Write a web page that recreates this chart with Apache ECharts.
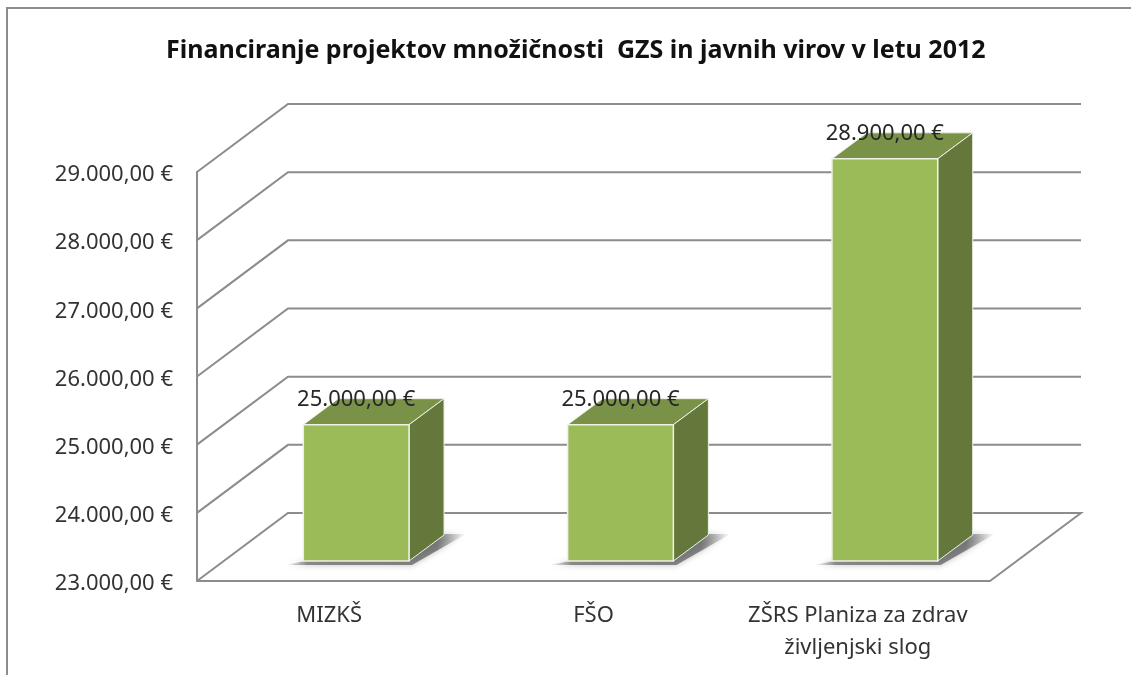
<!DOCTYPE html>
<html><head><meta charset="utf-8">
<style>html,body{margin:0;padding:0;background:#fff}#c{width:1131px;height:675px}</style>
<script src="https://cdn.jsdelivr.net/npm/echarts@6/dist/echarts.min.js"></script>
</head><body><div id="c"></div>
<script>
const titleText = 'Financiranje projektov množičnosti  GZS in javnih virov v letu 2012';
const categories = ['MIZKŠ', 'FŠO', 'ZŠRS Planiza za zdrav\nživljenjski slog'];
const amounts = [25000, 25000, 28900];
const yTicks = [23000, 24000, 25000, 26000, 27000, 28000, 29000];

const FONT = '"Noto Sans", sans-serif';
const LINE = '#8c8c8c';
const WALL = [91, -68];      // depth of the whole 3D floor, px
const BAR_SHIFT = [27, -20]; // front face of the bars inside the floor, px
const BAR_DEPTH = [35, -26]; // depth of a bar, px

function money(v) {
  const s = String(Math.round(v));
  return s.slice(0, -3) + '.' + s.slice(-3) + ',00 €';
}

const chart = echarts.init(document.getElementById('c'), null, {renderer: 'canvas'});

function wallItem(params, api) {
  const v = api.value(0);
  const band = api.size([1, 0])[0];
  const n = categories.length;
  const left = api.coord([0, v]);
  const x0 = left[0] - band / 2;
  const x1 = x0 + band * n;
  const y = left[1];
  const pts = [[x0, y], [x0 + WALL[0], y + WALL[1]], [x1 + WALL[0], y + WALL[1]]];
  if (v === yTicks[0]) pts.push([x1, y]);
  return {type: 'polyline', shape: {points: pts},
    style: {stroke: LINE, lineWidth: 2, fill: null}, silent: true};
}

function barItem(params, api) {
  const i = api.value(0), v = api.value(1);
  const band = api.size([1, 0])[0];
  const w = band * 0.4;
  const top = api.coord([i, v]);
  const base = api.coord([i, yTicks[0]]);
  const x0 = top[0] - w / 2 + BAR_SHIFT[0], x1 = x0 + w;
  const yt = top[1] + BAR_SHIFT[1], yb = base[1] + BAR_SHIFT[1];
  const dx = BAR_DEPTH[0], dy = BAR_DEPTH[1];
  const edge = '#eef1e6';
  const shade = {type: 'linear', global: true, x: x0 - 18, y: 0, x2: x1 + dx + 22, y2: 0, colorStops: [
    {offset: 0, color: 'rgba(80,80,80,0)'},
    {offset: 0.12, color: 'rgba(80,80,80,0.6)'},
    {offset: 0.84, color: 'rgba(80,80,80,0.65)'},
    {offset: 1, color: 'rgba(80,80,80,0)'}]};
  return {type: 'group', children: [
    {type: 'polygon', shape: {points: [[x0 - 18, yb + 4], [x1 + 3, yb + 4], [x1 + dx + 22, yb + dy - 1], [x1 + dx - 2, yb + dy - 1]]},
      style: {fill: shade, shadowBlur: 6, shadowColor: 'rgba(110,110,110,0.7)'}},
    {type: 'polygon', shape: {points: [[x0, yt], [x1, yt], [x1 + dx, yt + dy], [x0 + dx, yt + dy]]},
      style: {fill: '#7A9148', stroke: edge, lineWidth: 1}},
    {type: 'polygon', shape: {points: [[x1, yt], [x1 + dx, yt + dy], [x1 + dx, yb + dy], [x1, yb]]},
      style: {fill: '#64783B', stroke: edge, lineWidth: 1}},
    {type: 'rect', shape: {x: x0, y: yt, width: w, height: yb - yt},
      style: {fill: '#9BBB59', stroke: edge, lineWidth: 1.5}},
    {type: 'text', style: {text: money(v), x: x0 + w / 2, y: yt + dy + 1,
      align: 'center', verticalAlign: 'middle', font: '22px ' + FONT, fill: '#262626'}, z2: 10}
  ]};
}

chart.setOption({
  animation: false,
  backgroundColor: '#fff',
  title: {text: titleText, left: 161, top: 33,
    textStyle: {fontFamily: FONT, fontSize: 25, fontWeight: 'bold', color: '#111'}},
  graphic: [{type: 'polyline', silent: true, shape: {points: [[7, 675], [7, 8], [1131, 8]]},
    style: {stroke: '#8c8c8c', lineWidth: 2, fill: null}}],
  grid: {left: 197, top: 172, width: 793, height: 409},
  xAxis: {type: 'category', data: categories,
    axisLine: {show: true, lineStyle: {color: LINE, width: 2}},
    axisTick: {show: false}, splitLine: {show: false},
    axisLabel: {color: '#333', fontFamily: FONT, fontSize: 22, margin: 19, lineHeight: 32, interval: 0}},
  yAxis: {type: 'value', min: 23000, max: 29000, interval: 1000,
    axisLine: {show: true, lineStyle: {color: LINE, width: 2}},
    axisTick: {show: false}, splitLine: {show: false},
    axisLabel: {color: '#333', fontFamily: FONT, fontSize: 22, margin: 24, verticalAlign: 'top', lineHeight: 6, formatter: money}},
  series: [
    {type: 'custom', name: 'walls', coordinateSystem: 'cartesian2d', z: 1, silent: true,
      encode: {y: 0}, data: yTicks.map(v => [v]), renderItem: wallItem, clip: false},
    {type: 'custom', name: 'amounts', coordinateSystem: 'cartesian2d', z: 3, silent: true,
      encode: {x: 0, y: 1}, data: amounts.map((v, i) => [i, v]), renderItem: barItem, clip: false}
  ]
});
</script></body></html>
